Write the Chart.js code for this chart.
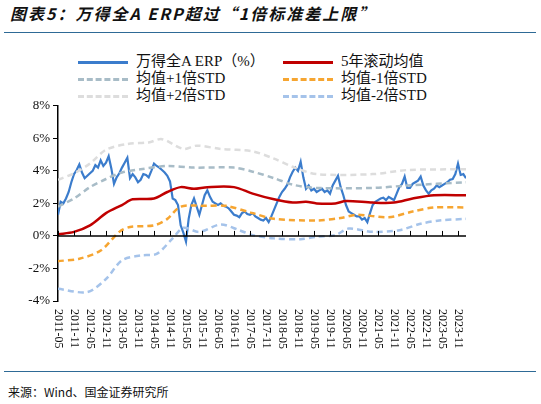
<!DOCTYPE html>
<html><head><meta charset="utf-8">
<script src="https://cdn.jsdelivr.net/npm/chart.js@4.4.0/dist/chart.umd.min.js"></script>
<style>
body{margin:0;width:541px;height:404px;background:#fff;position:relative;overflow:hidden}
#title{position:absolute;left:10px;top:1px;font:italic bold 16px "Noto Sans CJK SC";color:#111;letter-spacing:2px}
.rule{position:absolute;left:4px;width:532px;height:1px;background:#2e6a96}
#legend{position:absolute;top:53px;left:0;font:15px "Liberation Serif","Noto Sans CJK SC";color:#111}
.it{position:absolute;white-space:nowrap;line-height:16px}
.it span{display:inline-block;width:50px;vertical-align:middle;margin-right:8px;border-top:3px solid}
#foot{position:absolute;left:8px;top:383px;font:12px "Noto Sans CJK SC";color:#111}
#c{position:absolute;left:0;top:95px}
</style></head><body>
<div id="title">图表5：万得全A ERP超过“1倍标准差上限”</div>
<div class="rule" style="top:32px"></div>
<div id="legend"></div>
<div class="rule" style="top:371px"></div>
<div id="foot">来源：Wind、国金证券研究所</div>
<canvas id="c" width="541" height="270"></canvas>
<script>
const tickLabels = ['2011-05','2011-11','2012-05','2012-11','2013-05','2013-11','2014-05','2014-11','2015-05','2015-11','2016-05','2016-11','2017-05','2017-11','2018-05','2018-11','2019-05','2019-11','2020-05','2020-11','2021-05','2021-11','2022-05','2022-11','2023-05','2023-11'];
// monthly ERP from 2011-05
const erp = [1.3,2.1,2.0,2.3,2.7,3.3,3.8,4.05,4.4,3.9,3.55,3.7,
 3.85,4.0,4.35,4.2,4.65,4.3,4.5,4.9,4.15,3.2,3.6,3.85,
 4.2,4.5,4.8,3.55,3.8,3.6,3.3,3.45,3.8,3.75,3.6,4.0,
 4.45,4.3,4.2,4.05,3.9,3.7,3.35,2.3,2.2,1.9,0.65,0.2,
 -0.35,1.05,1.9,2.3,1.8,1.3,1.9,2.5,2.8,2.4,2.1,2.0,
 1.9,2.0,1.85,1.8,1.7,1.5,1.3,1.25,1.15,1.4,1.5,1.35,
 1.3,1.4,1.2,1.1,1.0,0.95,1.1,0.85,1.2,1.6,2.0,2.4,
 2.7,2.9,3.15,3.6,3.95,4.2,4.0,4.55,3.6,2.9,3.1,2.8,
 2.9,2.7,2.8,2.9,2.7,2.8,2.6,3.1,3.4,3.7,3.0,2.5,
 1.9,1.5,1.4,1.3,1.2,1.2,1.0,1.1,0.85,1.4,1.9,2.1,
 2.2,2.3,2.35,2.2,2.4,2.3,2.2,2.6,3.0,3.2,3.65,2.95,
 2.95,3.2,3.3,3.4,3.65,3.1,2.8,2.6,2.8,2.9,3.1,3.0,
 3.1,3.2,3.3,3.45,3.5,3.8,4.45,3.75,3.8,3.55];
// smooth bands read at month index [month, value]
const mean5y = [[0,0.1],[6,0.25],[12,0.65],[18,1.4],[24,1.9],[28,2.25],[36,2.3],[41,2.7],[46,3.0],[51,2.9],[56,3.0],[66,3.0],[73,2.6],[81,2.25],[88,2.05],[93,2.1],[97,2.0],[104,2.0],[108,2.15],[118,2.05],[126,2.05],[133,2.3],[141,2.5],[153,2.5]];
const plus1 = [[0,1.8],[6,2.3],[12,3.0],[18,3.5],[24,3.9],[31,4.1],[41,4.3],[51,4.2],[66,4.2],[73,3.95],[81,3.55],[88,3.15],[97,2.95],[118,2.95],[131,3.1],[153,3.3]];
const plus2 = [[0,3.45],[6,3.85],[12,4.45],[18,5.3],[26,5.65],[34,5.75],[39,5.95],[47,5.35],[52,5.55],[61,5.35],[73,5.2],[81,4.75],[88,4.25],[97,3.8],[118,3.8],[131,4.05],[153,4.1]];
const minus1 = [[0,-1.55],[8,-1.4],[16,-0.9],[23,0.25],[27,0.55],[36,0.65],[41,1.05],[46,1.8],[56,1.85],[63,1.85],[73,1.4],[81,1.05],[97,0.95],[106,1.1],[112,1.3],[124,1.15],[133,1.5],[141,1.75],[153,1.75]];
const minus2 = [[0,-3.25],[11,-3.45],[18,-2.65],[24,-1.5],[31,-1.2],[37,-1.1],[43,-0.15],[47,0.5],[53,0.25],[61,0.7],[68,0.35],[73,0.05],[81,-0.15],[91,-0.2],[97,-0.05],[104,0.05],[109,0.45],[118,0.25],[128,0.35],[136,0.75],[143,0.95],[153,1.05]];

const pts = a => a.map(p => ({x: p[0], y: p[1]}));
const series = [
  {label:'万得全A ERP（%）', data: erp.map((v,i)=>({x:i,y:v})), color:'#3b7ccc', dash:[]},
  {label:'5年滚动均值', data: pts(mean5y), color:'#c00000', dash:[]},
  {label:'均值+1倍STD', data: pts(plus1), color:'#a8bcc7', dash:[6,4]},
  {label:'均值-1倍STD', data: pts(minus1), color:'#f6a531', dash:[6,4]},
  {label:'均值+2倍STD', data: pts(plus2), color:'#dddddd', dash:[6,4]},
  {label:'均值-2倍STD', data: pts(minus2), color:'#a5c3ea', dash:[6,4]}
];
// order drawn: bands behind ERP
const order = [4,5,2,3,1,0];

const leg = document.getElementById('legend');
series.forEach((s,i) => {
  const d = document.createElement('div');
  d.className = 'it';
  d.style.left = (i%2 ? 283 : 78) + 'px';
  d.style.top = (Math.floor(i/2)*17) + 'px';
  d.innerHTML = '<span style="border-top-color:'+s.color+';border-top-style:'+(s.dash.length?'dashed':'solid')+'"></span>'+s.label;
  leg.appendChild(d);
});

const xAxisPlugin = {
  id:'xAxisPlugin',
  afterDraw(chart){
    const c = chart.ctx, xs = chart.scales.x, ys = chart.scales.y;
    const y0 = ys.getPixelForValue(0);
    c.save();
    c.strokeStyle = '#000'; c.lineWidth = 1.5;
    c.beginPath(); c.moveTo(xs.left, y0); c.lineTo(xs.right, y0); c.stroke();
    c.lineWidth = 1;
    for (let m = 0; m <= 153; m += 6) {
      const px = Math.round(xs.getPixelForValue(m)) + 0.5;
      c.beginPath(); c.moveTo(px, y0); c.lineTo(px, y0 - 5); c.stroke();
    }
    c.fillStyle = '#111'; c.font = '12px "Liberation Serif"';
    c.textAlign = 'left'; c.textBaseline = 'middle';
    tickLabels.forEach((t,i) => {
      const px = xs.getPixelForValue(i*6);
      c.save(); c.translate(px, ys.bottom + 8); c.rotate(Math.PI/2);
      c.fillText(t, 0, 0); c.restore();
    });
    c.restore();
  }
};

new Chart(document.getElementById('c'), {
  type:'line',
  data:{datasets: order.map(i => ({
    label: series[i].label, data: series[i].data,
    borderColor: series[i].color, borderDash: series[i].dash,
    borderWidth: i===0 ? 2.2 : 2.5, pointRadius:0, tension: i===0 ? 0 : 0.3,
    fill:false
  }))},
  options:{
    responsive:false, animation:false,
    layout:{padding:{top:8,right:75,bottom:56,left:0}},
    plugins:{legend:{display:false}, tooltip:{enabled:false}},
    scales:{
      x:{type:'linear', min:0, max:153, display:true,
         grid:{display:false}, border:{display:false}, ticks:{display:false}},
      y:{min:-4, max:8, afterFit(s){ s.width = 58; },
         ticks:{stepSize:2, color:'#111', font:{family:'Liberation Serif', size:13}, callback:v => v + '%'},
         grid:{drawOnChartArea:false, drawTicks:true, tickLength:5, color:'#000'},
         border:{color:'#000', width:1.5}}
    }
  },
  plugins:[xAxisPlugin]
});
</script>
</body></html>
